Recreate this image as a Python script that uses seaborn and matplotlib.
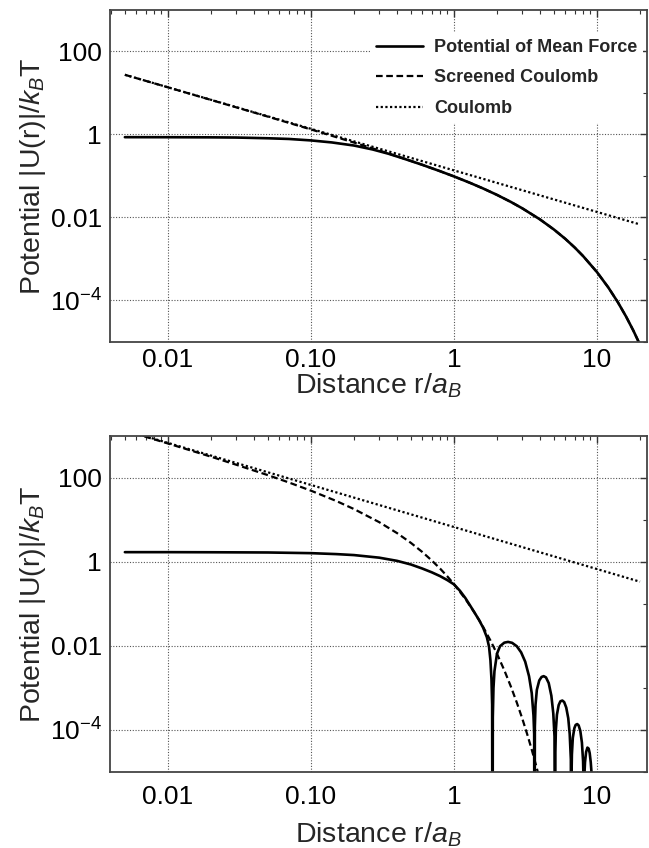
import matplotlib
matplotlib.use("Agg")
import matplotlib.pyplot as plt
import seaborn as sns
import pandas as pd
from matplotlib.ticker import FixedLocator, FixedFormatter, NullFormatter

# ---------------- data ----------------
# top panel
r_top_pmf = [0.005, 0.01, 0.02, 0.03, 0.05, 0.07, 0.1, 0.14, 0.2, 0.27, 0.35, 0.45,
             0.6, 0.8, 1.0, 1.3, 1.6, 2.0, 2.5, 3.0, 4.0, 5.0, 6.0, 7.0, 8.0,
             10.0, 12.0, 14.0, 16.0, 18.0, 20.0]
pmf_top = [0.85, 0.848, 0.842, 0.833, 0.80, 0.77, 0.71, 0.635, 0.535, 0.43, 0.338, 0.256,
           0.184, 0.129, 0.0967, 0.0673, 0.0495, 0.0347, 0.0235, 0.01655, 0.0089, 0.0051,
           0.00305, 0.00187, 0.00117, 4.82e-4, 2.06e-4, 9.07e-5, 4.07e-5, 1.86e-5, 8.6e-6]

r_top_scr = [0.005, 0.01, 0.02, 0.05, 0.1, 0.2, 0.3, 0.45, 0.6, 0.8, 1.0, 1.3, 1.6,
             2.0, 2.5, 3.0, 4.0, 5.0, 6.0, 7.0, 8.0, 10.0, 12.0, 14.0, 16.0, 18.0, 20.0]
scr_top = [26.95, 13.46, 6.7, 2.655, 1.306, 0.631, 0.407, 0.258, 0.184, 0.129, 0.0967,
           0.0673, 0.0495, 0.0347, 0.0235, 0.01655, 0.0089, 0.0051, 0.00305, 0.00187,
           0.00117, 4.82e-4, 2.06e-4, 9.07e-5, 4.07e-5, 1.86e-5, 8.6e-6]

r_coul = [0.005, 20.0]
coul_top = [27.0, 0.00675]

# bottom panel
r_bot_pmf = [0.005, 0.01, 0.02, 0.05, 0.1, 0.15, 0.2, 0.3, 0.4, 0.5, 0.6, 0.7, 0.8, 0.9,
             1.0, 1.1, 1.2, 1.3, 1.4, 1.5, 1.6, 1.7, 1.76, 1.8, 1.83, 1.85, 1.86,
             1.87, 1.89, 1.92, 2.0, 2.1, 2.25, 2.39, 2.55, 2.75, 2.95, 3.15, 3.35, 3.5, 3.6, 3.64, 3.66,
             3.68, 3.72, 3.8, 3.95, 4.1, 4.24, 4.4, 4.6, 4.8, 4.95, 5.05, 5.1,
             5.12, 5.16, 5.25, 5.4, 5.55, 5.73, 5.9, 6.1, 6.3, 6.45, 6.57, 6.62,
             6.64, 6.68, 6.78, 6.95, 7.1, 7.28, 7.45, 7.65, 7.85, 8.0, 8.06, 8.09,
             8.11, 8.15, 8.25, 8.4, 8.58, 8.75, 8.9, 9.05, 9.2, 9.35, 9.5]
pmf_bot = [1.69, 1.69, 1.68, 1.66, 1.60, 1.52, 1.44, 1.25, 1.05, 0.86, 0.69, 0.56, 0.455, 0.365,
           0.29, 0.205, 0.138, 0.09, 0.06, 0.041, 0.027, 0.016, 0.0095, 0.0045, 0.0016, 4e-4, 1e-9,
           2e-4, 1e-3, 2.5e-3, 6.5e-3, 9.8e-3, 0.0119, 0.0124, 0.0118, 0.0098, 0.0070, 0.0042, 0.0019, 7.5e-4, 2.2e-4, 8e-5, 1e-9,
           1.2e-4, 4e-4, 9e-4, 1.5e-3, 1.82e-3, 1.9e-3, 1.78e-3, 1.3e-3, 6.5e-4, 2.5e-4, 7e-5, 1e-9,
           3e-5, 1e-4, 2.3e-4, 3.9e-4, 4.8e-4, 5.0e-4, 4.6e-4, 3.4e-4, 1.9e-4, 8e-5, 2e-5, 1e-9,
           8e-6, 2.6e-5, 6.5e-5, 1.1e-4, 1.32e-4, 1.38e-4, 1.28e-4, 9.5e-5, 5e-5, 1.8e-5, 6e-6, 1e-9,
           2.5e-6, 7e-6, 1.7e-5, 3e-5, 3.8e-5, 3.6e-5, 2.8e-5, 1.7e-5, 8e-6, 2.5e-6, 1e-9]

r_bot_scr = [0.005, 0.007, 0.01, 0.02, 0.03, 0.05, 0.07, 0.1, 0.15, 0.2, 0.3, 0.4, 0.5, 0.6,
             0.7, 0.8, 0.9, 1.0, 1.2, 1.4, 1.6, 1.8, 2.0, 2.25, 2.5, 2.75, 3.0, 3.25, 3.5,
             3.75, 4.0]
scr_bot = [1319, 936, 649, 315, 203, 114.6, 76.9, 49.0, 27.95, 17.9, 8.75, 4.80, 2.81, 1.713,
           1.07, 0.688, 0.447, 0.294, 0.1313, 0.0603, 0.0282, 0.01342, 0.00647, 2.63e-3,
           1.08e-3, 4.5e-4, 1.9e-4, 8.0e-5, 3.4e-5, 1.45e-5, 6.2e-6]

coul_bot = [1340.0, 0.335]

x_ticks = [0.01, 0.1, 1, 10]
x_labels = ["0.01", "0.10", "1", "10"]
y_ticks = [1e-4, 1e-2, 1, 100]
y_labels = [r"$10^{-4}$", "0.01", "1", "100"]
series_names = ["Potential of Mean Force", "Screened Coulomb", "Coulomb"]

# ---------------- style ----------------
sns.set_style("white")
plt.rcParams["font.family"] = ["Liberation Sans", "DejaVu Sans"]
plt.rcParams["mathtext.fontset"] = "custom"
plt.rcParams["mathtext.rm"] = "Liberation Sans"
plt.rcParams["mathtext.it"] = "Liberation Sans:italic"
plt.rcParams["mathtext.default"] = "regular"

fig = plt.figure(figsize=(6.49, 8.48), dpi=100)
W, H = 649, 848
ax1 = fig.add_axes([110 / W, 1 - 342 / H, 537 / W, 332 / H])
ax2 = fig.add_axes([110 / W, 1 - 772 / H, 537 / W, 336 / H])

minor_x = [k * 10.0 ** e for e in range(-3, 2) for k in range(2, 10)]

def draw(ax, rp, pv, rs, sv, cv, legend, xlab_y, xpad):
    sns.lineplot(x=rp, y=pv, ax=ax, color="black", lw=1.9, estimator=None, sort=False,
                 label=series_names[0] if legend else None)
    sns.lineplot(x=rs, y=sv, ax=ax, color="black", lw=1.6, estimator=None, sort=False,
                 label=series_names[1] if legend else None)
    sns.lineplot(x=r_coul, y=cv, ax=ax, color="black", lw=1.6, estimator=None, sort=False,
                 label=series_names[2] if legend else None)
    lines = ax.get_lines()
    lines[1].set_dashes([3, 1.6])
    lines[2].set_dashes([1, 1.1])
    ax.set_xscale("log")
    ax.set_yscale("log")
    ax.set_xlim(10 ** -2.405, 10 ** 1.35)
    ax.set_ylim(1e-5, 10 ** 2.99)
    ax.xaxis.set_major_locator(FixedLocator(x_ticks))
    ax.xaxis.set_major_formatter(FixedFormatter(x_labels))
    ax.xaxis.set_minor_locator(FixedLocator(minor_x))
    ax.xaxis.set_minor_formatter(NullFormatter())
    ax.yaxis.set_major_locator(FixedLocator(y_ticks))
    ax.yaxis.set_major_formatter(FixedFormatter(y_labels))
    ax.yaxis.set_minor_locator(FixedLocator([1e-5, 1e-3, 1e-1, 10, 1000]))
    ax.yaxis.set_minor_formatter(NullFormatter())
    ax.tick_params(which="both", direction="in", top=True, right=True, colors="#333333",
                   labelcolor="black", labelsize=19)
    ax.tick_params(which="major", length=5, width=1.0, pad=6)
    ax.tick_params(axis="x", which="major", pad=xpad)
    ax.tick_params(which="minor", length=3, width=0.8)
    ax.grid(True, which="major", linestyle=(0, (1, 1.5)), color="#555555", lw=0.8)
    for s in ax.spines.values():
        s.set_color("#444444")
        s.set_linewidth(1.3)
    ax.set_xlabel(r"Distance r/$\mathit{a_B}$", fontsize=20.5)
    ax.set_ylabel(r"Potential |U(r)|/$\mathit{k_B}$T", fontsize=20.5)
    ax.xaxis.set_label_coords(0.5, xlab_y)
    ax.yaxis.set_label_coords(-0.115, 0.5)
    if legend:
        leg = ax.legend(loc="upper right", bbox_to_anchor=(1.0, 0.943), frameon=True,
                        facecolor="white", edgecolor="none", framealpha=1.0, fancybox=False,
                        prop={"weight": "bold", "size": 13}, handlelength=2.6,
                        labelspacing=0.75, handletextpad=0.6, borderaxespad=0.2,
                        borderpad=0.35)
        hl = leg.get_lines()
        hl[1].set_dashes([3, 1.6])
        hl[2].set_dashes([1, 1.1])
    else:
        if ax.get_legend() is not None:
            ax.get_legend().remove()

draw(ax1, r_top_pmf, pmf_top, r_top_scr, scr_top, coul_top, True, -0.090, 4)
draw(ax2, r_bot_pmf, pmf_bot, r_bot_scr, scr_bot, coul_bot, False, -0.143, 9)

fig.savefig("out.png", dpi=100)
